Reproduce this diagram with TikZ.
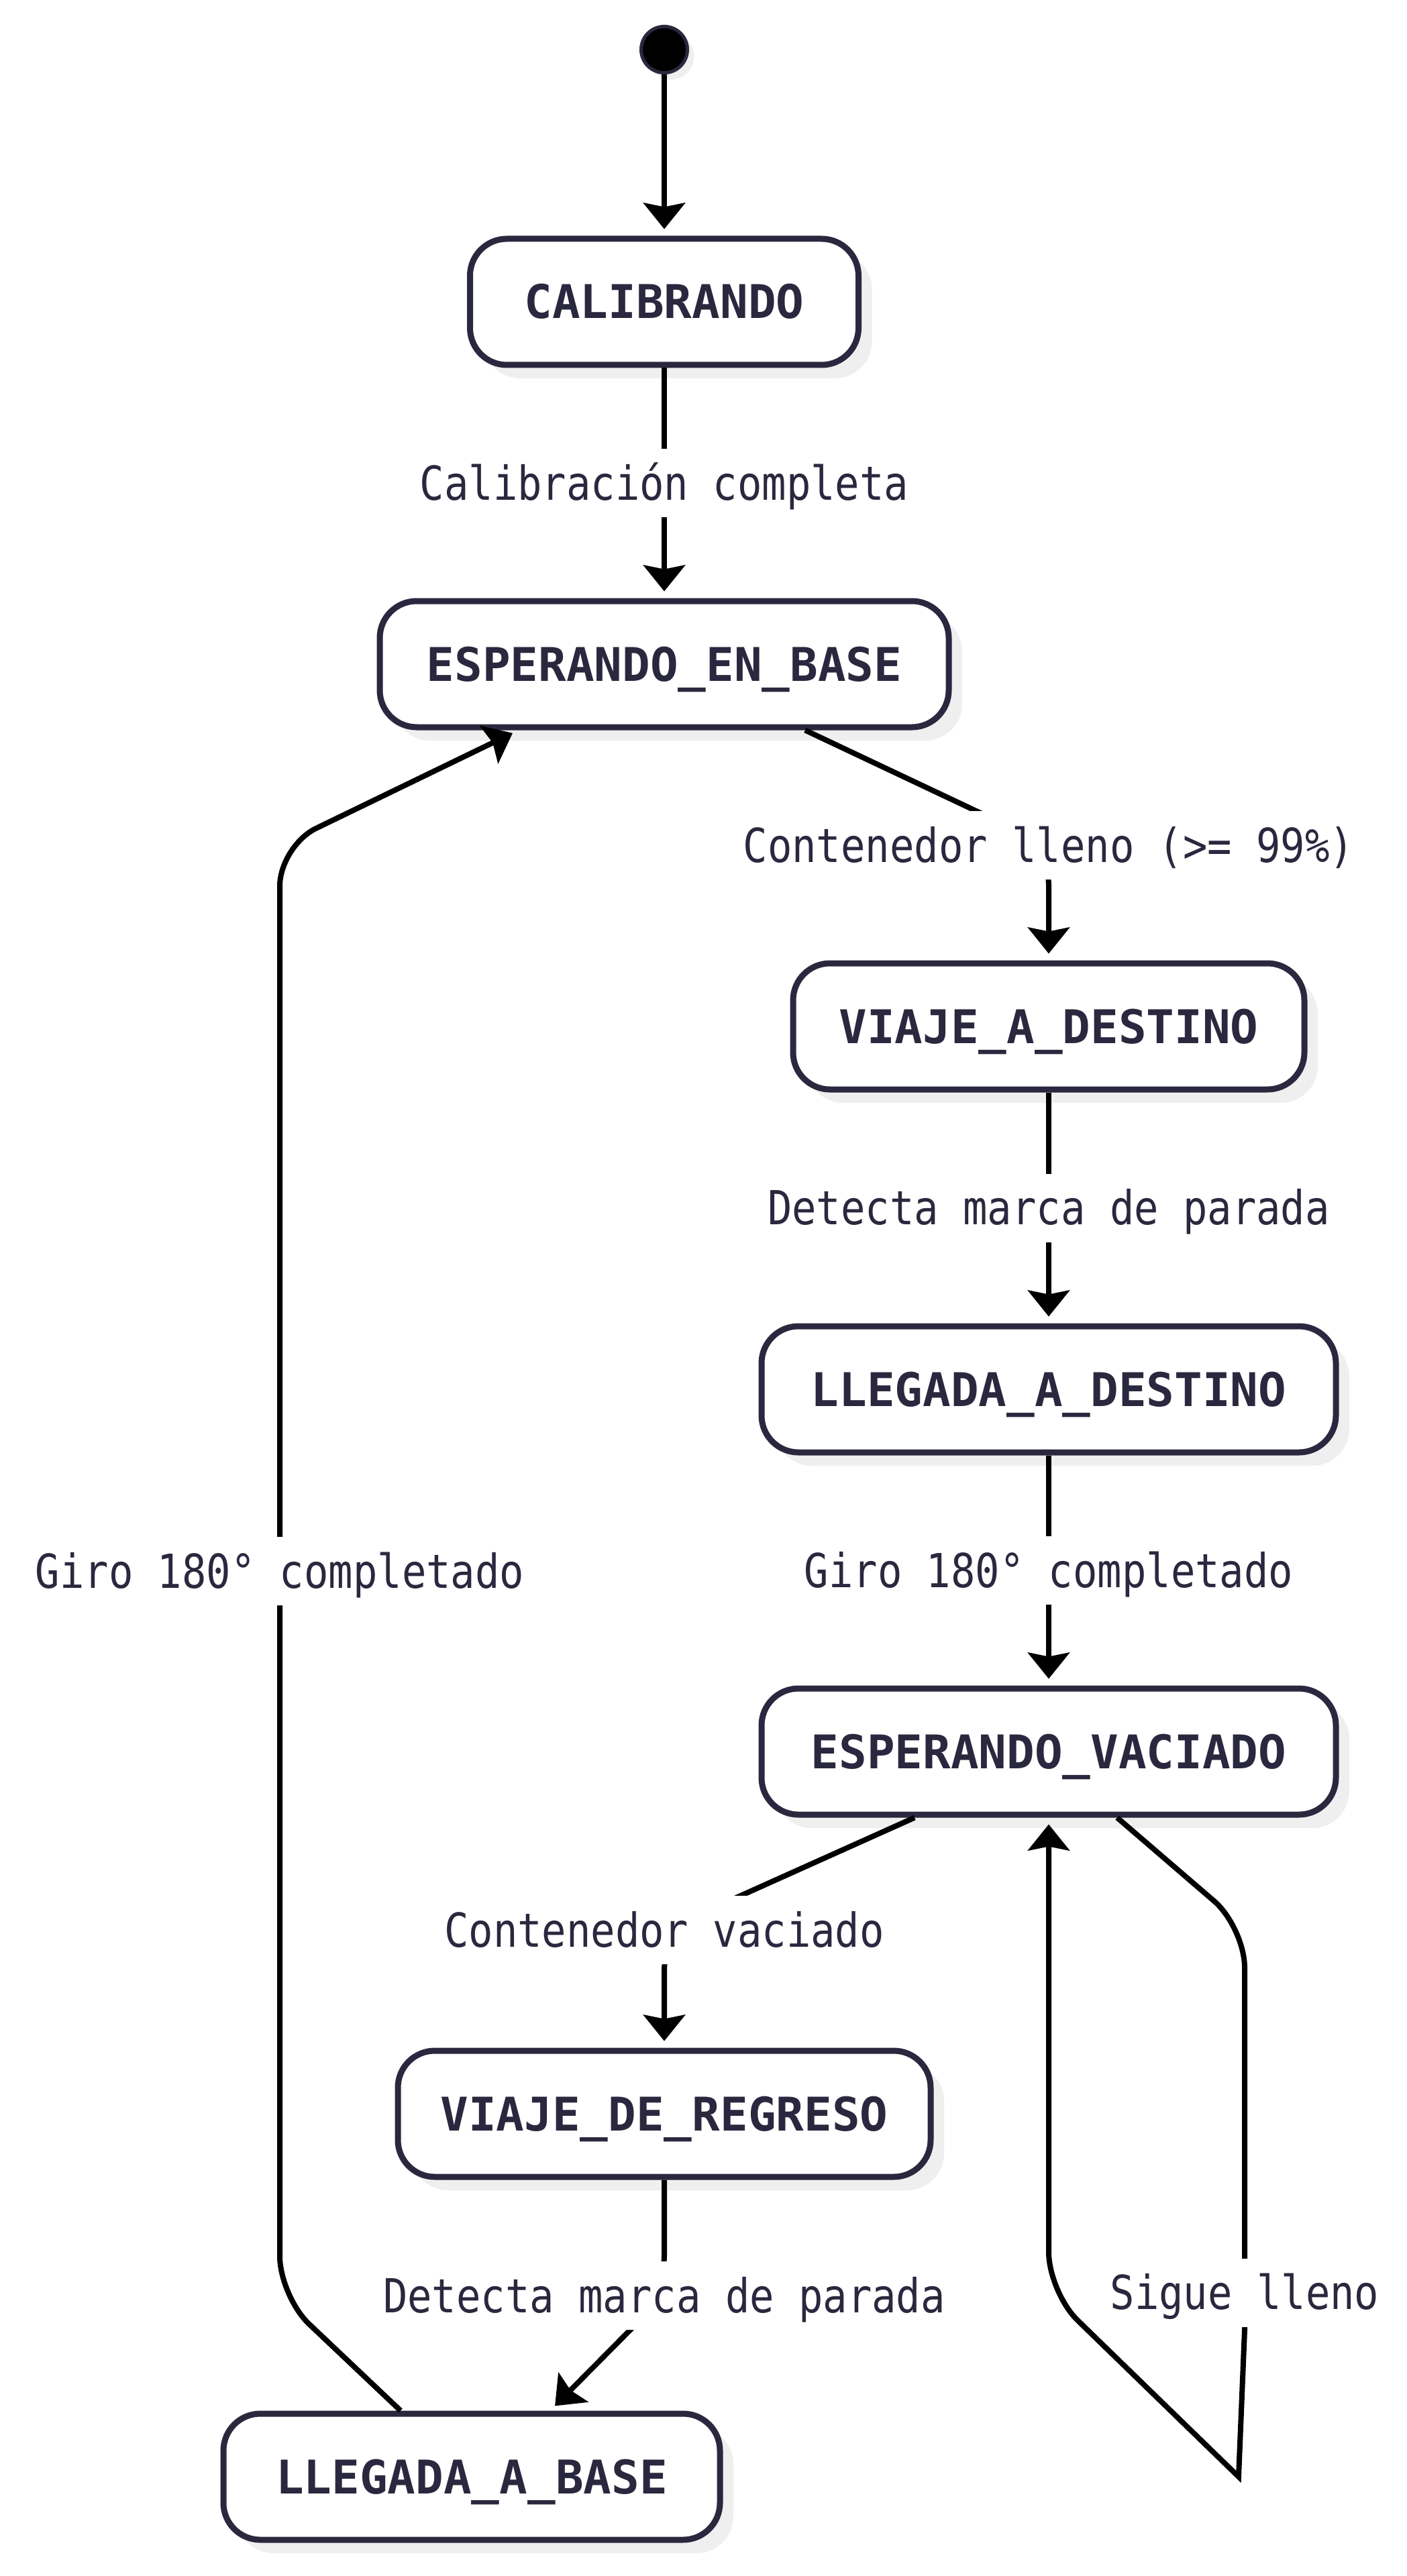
\documentclass[tikz,border=0pt]{standalone}
\usepackage{fontspec}
\usetikzlibrary{arrows.meta,calc,shadows}
\newfontfamily\statefont{DejaVu Sans Mono}
\newfontfamily\edgefont[FakeStretch=0.865]{DejaVu Sans Mono}
\definecolor{ink}{RGB}{42,40,62}
\definecolor{shade}{RGB}{239,239,239}
\tikzset{
  >={Stealth[length=3.9mm,width=6.2mm,inset=.6mm]},
  state box/.style={draw=ink,fill=white,line width=.9mm,rounded corners=5.5mm,
    minimum width=#1,minimum height=18.8mm,text=ink,
    font=\statefont\bfseries\fontsize{19.7}{22}\selectfont,
    text height=5mm,text depth=0mm,
    drop shadow={shadow xshift=2mm,shadow yshift=-2mm,fill=shade,opacity=1}},
  state box/.default=6cm,
  init/.style={circle,fill=black,draw=ink,line width=.5mm,minimum size=6.9mm,inner sep=0pt,
    drop shadow={shadow xshift=1mm,shadow yshift=-1mm,fill=shade,opacity=1}},
  flow/.style={->,line width=.8mm,draw=black,shorten >=1mm},
  lbl/.style={fill=white,text=ink,font=\edgefont\fontsize{19.9}{22}\selectfont,
    inner xsep=1.5mm,inner ysep=1.4mm,text height=6.2mm,text depth=1.2mm},
}
\begin{document}
\begin{tikzpicture}
  \path[use as bounding box,fill=white] (0,0) rectangle (20.96,-38.40);
  % states
  \node[init] (start) at (9.90,-0.74) {};
  \node[state box=5.79cm] (cal) at (9.90,-4.50) {CALIBRANDO};
  \node[state box=8.48cm] (eeb) at (9.90,-9.90) {ESPERANDO\_EN\_BASE};
  \node[state box=7.62cm] (vad) at (15.63,-15.30) {VIAJE\_A\_DESTINO};
  \node[state box=8.56cm] (lld) at (15.63,-20.71) {LLEGADA\_A\_DESTINO};
  \node[state box=8.56cm] (eva) at (15.63,-26.11) {ESPERANDO\_VACIADO};
  \node[state box=7.94cm] (vdr) at (9.90,-31.51) {VIAJE\_DE\_REGRESO};
  \node[state box=7.40cm] (llb) at (7.03,-36.92) {LLEGADA\_A\_BASE};
  % transitions
  \draw[flow] (start) -- (cal);
  \draw[flow] (cal) -- node[lbl] (lcal) {Calibración completa} (eeb);
  \draw[flow,rounded corners=6mm] ($(eeb.south)+(2.10,0)$) -- (15.63,-12.60)
    node[lbl] (llleno) {Contenedor lleno (>= 99\%)} -- (vad.north);
  \draw[flow] (vad) -- node[lbl] (ldet1) {Detecta marca de parada} (lld);
  \draw[flow] (lld) -- node[lbl] (lgiro1) {Giro 180° completado} (eva);
  \draw[flow,rounded corners=6mm] ($(eva.south)+(-2.00,0)$) -- (9.90,-28.77)
    node[lbl] (lvac) {Contenedor vaciado} -- (vdr.north);
  \draw[flow,rounded corners=6mm] (vdr.south) -- (9.90,-34.22)
    node[lbl] (ldet2) {Detecta marca de parada} -- ($(llb.north)+(1.17,0)$);
  \draw[flow,rounded corners=6mm] ($(llb.north)+(-1.06,0)$) -- (4.17,-34.23)
    -- node[lbl] (lgiro2) {Giro 180° completado} (4.17,-12.61) -- ($(eeb.south)+(-2.17,0)$);
  % self loop
  \draw[flow] ($(eva.south)+(1.02,0)$) [rounded corners=6mm] -- (18.55,-28.73)
    [sharp corners] -- node[lbl,pos=.908] (lsigue) {Sigue lleno} (18.55,-34.73)
    -- (18.46,-36.92) [rounded corners=6mm] -- (15.63,-34.17) -- (eva.south);
\end{tikzpicture}
\end{document}
